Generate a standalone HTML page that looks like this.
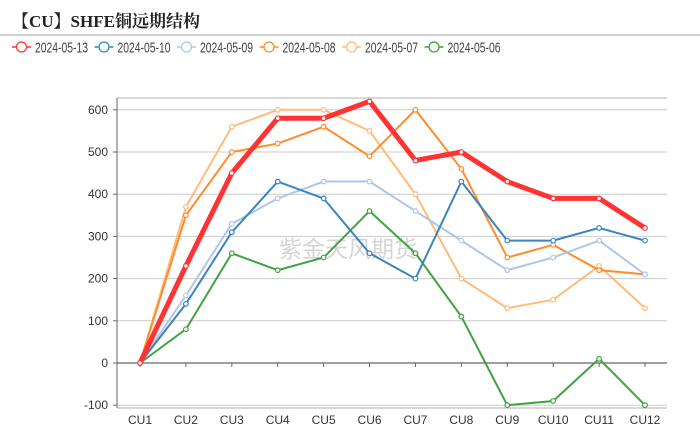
<!DOCTYPE html>
<html><head><meta charset="utf-8"><style>
body{margin:0;background:#fff;width:700px;height:436px;overflow:hidden;font-family:"Liberation Sans","Noto Sans CJK SC",sans-serif}
</style></head><body>
<svg width="700" height="436" xmlns="http://www.w3.org/2000/svg" id="chart">
<text x="12" y="27" font-size="17" font-weight="bold" fill="#222" font-family="Liberation Serif,Noto Serif CJK SC,serif">【CU】SHFE铜远期结构</text>
<line x1="0" y1="35" x2="700" y2="35" stroke="#d0d0d0" stroke-width="2"/>
<g id="legend"></g>
<text x="348" y="257" font-size="23" fill="#d4d4d4" text-anchor="middle">紫金天风期货</text>
<g id="grid"></g><g id="axes"></g><g id="series"></g>
</svg>
<script>
const categories=["CU1","CU2","CU3","CU4","CU5","CU6","CU7","CU8","CU9","CU10","CU11","CU12"];
const yTicks=[-100,0,100,200,300,400,500,600];
const seriesNames=["2024-05-13","2024-05-10","2024-05-09","2024-05-08","2024-05-07","2024-05-06"];
const s0513=[0,230,450,580,580,620,480,500,430,390,390,320];
const s0510=[0,140,310,430,390,260,200,430,290,290,320,290];
const s0509=[0,160,330,390,430,430,360,290,220,250,290,210];
const s0508=[0,350,500,520,560,490,600,460,250,280,220,210];
const s0507=[0,370,560,600,600,550,400,200,130,150,230,130];
const s0506=[0,80,260,220,250,360,260,110,-100,-90,10,-100];
const colors=["#ff3333","#3a85c0","#aec7e8","#ff8c2a","#ffbb78","#3fa33f"];
const widths=[5,2,2,2,2,2];
const NS="http://www.w3.org/2000/svg";
const x=i=>140+i*(505/11);
const y=v=>363-v*0.422;
function mk(t,a,p){const e=document.createElementNS(NS,t);for(const k in a)e.setAttribute(k,a[k]);p.appendChild(e);return e;}
const grid=document.getElementById('grid'),axes=document.getElementById('axes'),ser=document.getElementById('series'),leg=document.getElementById('legend');
mk('line',{x1:117,y1:98,x2:667,y2:98,stroke:'#ccc','stroke-width':1.5},grid);
mk('line',{x1:117,y1:408,x2:667,y2:408,stroke:'#ccc','stroke-width':1.5},grid);
yTicks.forEach(t=>{
 const g=mk('line',{x1:117,y1:y(t),x2:667,y2:y(t),stroke:t===0?'#666':'#ccc','stroke-width':t===0?1.2:1},grid);
 
 
 mk('line',{x1:113,y1:y(t),x2:117,y2:y(t),stroke:'#666'},axes);
 const l=mk('text',{x:108,y:y(t)+4,'font-size':12,fill:'#333','text-anchor':'end'},axes);
 l.textContent=t;
 
 
});
mk('line',{x1:117,y1:98,x2:117,y2:408,stroke:'#666'},axes);
categories.forEach((c,i)=>{
 mk('line',{x1:x(i),y1:363,x2:x(i),y2:367,stroke:'#666'},axes);
 const l=mk('text',{x:x(i),y:424,'font-size':12,fill:'#333','text-anchor':'middle'},axes);
 l.textContent=c;
 
 
});
const all=[s0513,s0510,s0509,s0508,s0507,s0506];
for(let k=all.length-1;k>=0;k--){
 const d=all[k];
 const g=mk('g',{},ser);
 
 
 mk('polyline',{points:d.map((v,i)=>x(i)+','+y(v)).join(' '),fill:'none',stroke:colors[k],'stroke-width':widths[k],'stroke-linejoin':'miter'},g);
 d.forEach((v,i)=>{
  const p=mk('circle',{cx:x(i),cy:y(v),r:2.3,fill:'#fff',stroke:colors[k],'stroke-width':1.2},g);
  
  
 });
}
seriesNames.forEach((n,k)=>{
 const lx=12+k*82.5;
 const g=mk('g',{},leg);
 
 
 mk('line',{x1:lx,y1:47,x2:lx+19,y2:47,stroke:colors[k],'stroke-width':1.5},g);
 mk('circle',{cx:lx+9.5,cy:47,r:5,fill:'#fff',stroke:colors[k],'stroke-width':1.3},g);
 const t=mk('text',{x:lx+23,y:52.5,'font-size':15,fill:'#444',textLength:53,lengthAdjust:'spacingAndGlyphs'},g);
 t.textContent=n;
});
</script>
</body></html>
